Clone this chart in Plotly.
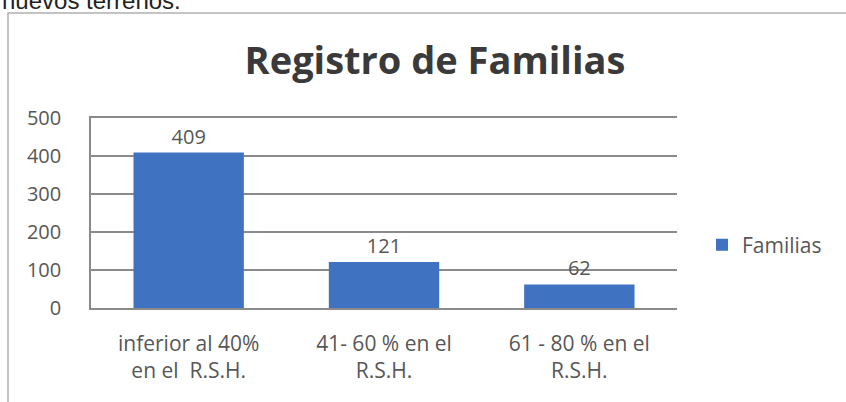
import plotly.graph_objects as go

categories = ["inferior al 40%<br>en el  R.S.H.", "41- 60 % en el<br>R.S.H.", "61 - 80 % en el<br>R.S.H."]
familias = [409, 121, 62]
y_ticks = [0, 100, 200, 300, 400, 500]
series_name = "Familias"
title_text = "Registro de Familias"
header_text = "nuevos terrenos."

W, H = 846, 402
L, R, T, B = 91, 169, 118, 94
pw, ph = W - L - R, H - T - B
FONT = "Open Sans, Lato, sans-serif"
TXT = "#575757"

def px_x(x):
    return (x - L) / pw

def px_y(y):
    return (H - B - y) / ph

fig = go.Figure()
fig.add_trace(go.Bar(
    x=categories, y=familias, name=series_name,
    marker=dict(color="#3F72C0", line=dict(width=0)),
    width=0.565,
    text=[str(v) for v in familias], textposition="outside",
    textfont=dict(family=FONT, size=20, color=TXT),
    cliponaxis=False,
))

fig.update_layout(
    width=W, height=H,
    margin=dict(l=L, r=R, t=T, b=B, autoexpand=False),
    paper_bgcolor="white", plot_bgcolor="white",
    showlegend=True,
    legend=dict(x=px_x(702), y=px_y(245), xanchor="left", yanchor="middle",
                font=dict(family=FONT, size=21, color=TXT),
                itemwidth=30, bgcolor="rgba(0,0,0,0)"),
    title=dict(text="<b>" + title_text + "</b>", x=px_x(435), xanchor="center",
               y=1 - 61 / H, yanchor="middle", xref="paper",
               font=dict(family=FONT, size=38, color="#3a3a3a")),
    xaxis=dict(showgrid=False, showline=True, mirror=True, linecolor="#8a8a8a", linewidth=1.5,
               ticks="", tickfont=dict(family=FONT, size=21, color=TXT),
               ticklabelstandoff=16),
    yaxis=dict(range=[0, 500], tickvals=y_ticks, showgrid=True, gridcolor="#8a8a8a", gridwidth=1.5,
               showline=True, linecolor="#8a8a8a", linewidth=1.5, zeroline=False,
               ticks="", tickfont=dict(family=FONT, size=20, color=TXT),
               ticklabelstandoff=24),
)

# outer chart frame
fig.add_shape(type="rect", xref="paper", yref="paper",
              x0=px_x(8), x1=px_x(850), y0=px_y(405), y1=px_y(13),
              line=dict(color="#b0b0b0", width=1.5), fillcolor="rgba(0,0,0,0)", layer="below")

# clipped header text from the document above the chart
fig.add_annotation(text=header_text, xref="paper", yref="paper",
                   x=px_x(0), y=px_y(16), xanchor="left", yanchor="bottom",
                   showarrow=False,
                   font=dict(family="Liberation Sans, Arial, sans-serif", size=24, color="#222222"))

fig.write_html("out.html", config={"displayModeBar": False},
               post_script="document.body.style.margin='0';")
